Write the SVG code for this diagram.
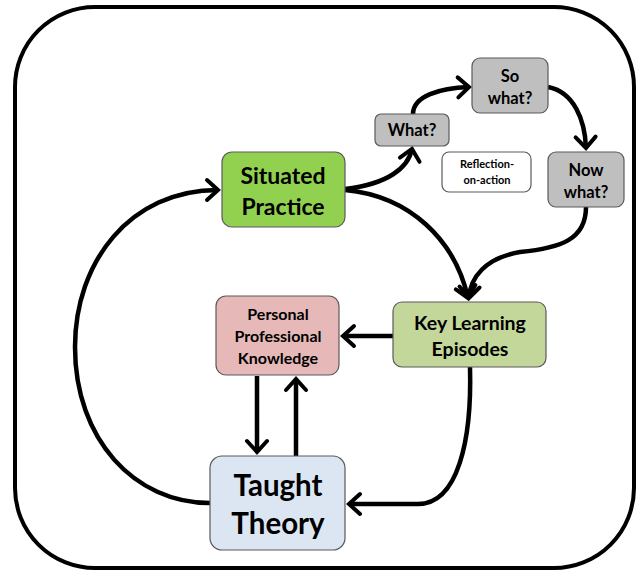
<svg xmlns="http://www.w3.org/2000/svg" width="636" height="571" viewBox="0 0 636 571">
<defs>
<marker id="ah" markerUnits="userSpaceOnUse" markerWidth="30" markerHeight="30" viewBox="-15 -15 30 30" refX="0" refY="0" orient="auto">
<path d="M-11,-10 L0,0 L-11,10" fill="none" stroke="#000" stroke-width="4" stroke-linecap="round" stroke-linejoin="miter"/>
</marker>
</defs>
<style>
.n{stroke:#5a5a5a;stroke-width:1.2}
.t{font-family:Lato,"Open Sans","Liberation Sans",sans-serif;font-weight:bold;fill:#000;text-anchor:middle}
.c{fill:none;stroke:#000;stroke-width:4.5;marker-end:url(#ah)}
</style>
<rect x="15" y="7" width="619" height="561" rx="80" ry="80" fill="#fff" stroke="#000" stroke-width="4"/>
<g id="connectors">
<path class="c" d="M345,189 C388,184 408,168 412,149"/>
<path class="c" d="M413,114 C413,96 440,88 469,87"/>
<path class="c" d="M548,87 C574,92 585,120 586,148"/>
<path class="c" d="M586,207 C586,240 560,248 520,252 C485,258 470,278 469,298"/>
<path class="c" d="M345,190 C410,196 455,240 468,298"/>
<path class="c" d="M393,336 L343,336"/>
<path class="c" d="M257,376 L257,452"/>
<path class="c" d="M296,456 L296,379"/>
<path class="c" d="M470,367 C472,440 458,504 418,504 L349,504"/>
<path class="c" d="M210,503 C135,503 75,440 75,347 C75,262 130,190 218,190"/>
</g>
<g id="situated">
<rect class="n" x="222" y="152" width="123" height="75" rx="10" fill="#92d050"/>
<text class="t" x="283" y="184" font-size="23">Situated</text>
<text class="t" x="283" y="215" font-size="23">Practice</text>
</g>
<g id="what">
<rect class="n" x="375" y="114" width="74" height="32" rx="6" fill="#bfbfbf"/>
<text class="t" x="412" y="136" font-size="16.5">What?</text>
</g>
<g id="sowhat">
<rect class="n" x="472" y="58" width="76" height="55" rx="8" fill="#bfbfbf"/>
<text class="t" x="510" y="82" font-size="16.5">So</text>
<text class="t" x="510" y="104" font-size="16.5">what?</text>
</g>
<g id="reflection">
<rect class="n" x="442" y="152" width="89" height="40" rx="7" fill="#fff"/>
<text class="t" x="487" y="168" font-size="11">Reflection-</text>
<text class="t" x="487" y="184" font-size="11">on-action</text>
</g>
<g id="nowwhat">
<rect class="n" x="548" y="152" width="76" height="55" rx="8" fill="#bfbfbf"/>
<text class="t" x="586" y="176" font-size="16.5">Now</text>
<text class="t" x="586" y="198" font-size="16.5">what?</text>
</g>
<g id="keylearning">
<rect class="n" x="393" y="302" width="153" height="65" rx="9" fill="#c4d79b"/>
<text class="t" x="470" y="330" font-size="19.5">Key Learning</text>
<text class="t" x="470" y="356" font-size="19.5">Episodes</text>
</g>
<g id="ppk">
<rect class="n" x="216" y="296" width="123" height="79" rx="10" fill="#e6b9b8"/>
<text class="t" x="278" y="320" font-size="16">Personal</text>
<text class="t" x="278" y="342" font-size="16">Professional</text>
<text class="t" x="278" y="364" font-size="16">Knowledge</text>
</g>
<g id="taught">
<rect class="n" x="210" y="456" width="135" height="94" rx="12" fill="#dce6f2"/>
<text class="t" x="278" y="496" font-size="29.5">Taught</text>
<text class="t" x="278" y="534" font-size="29.5">Theory</text>
</g>
</svg>
